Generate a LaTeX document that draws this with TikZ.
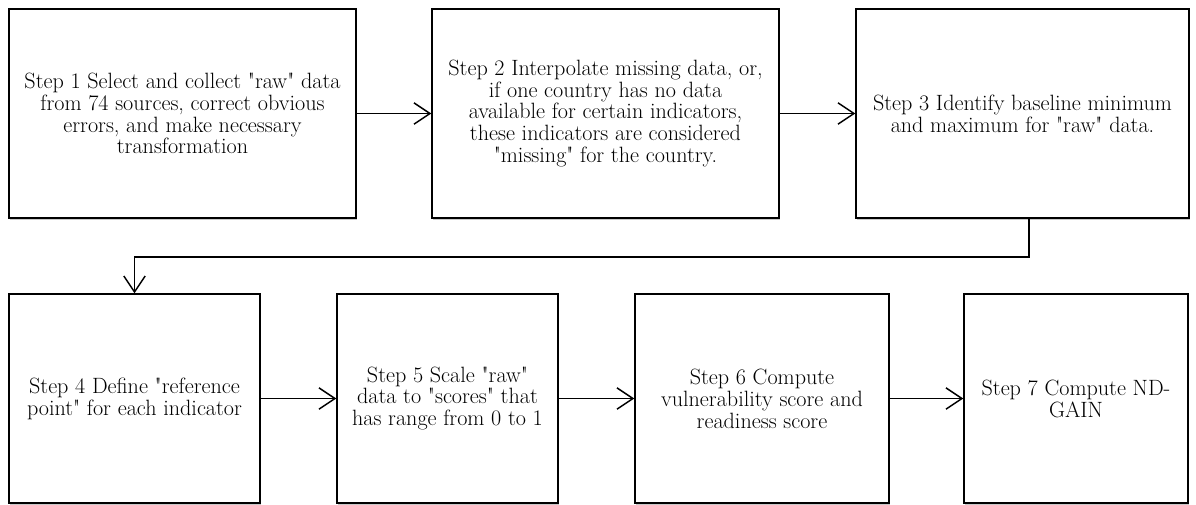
\documentclass[tikz,border=0pt]{standalone}
\usepackage{fontspec}
\usetikzlibrary{arrows.meta,shadows}
\newcommand{\dq}{\textquotedbl}
\begin{document}
\begin{tikzpicture}[x=0.75pt,y=-0.75pt,
  stepbox/.style={draw=black, line width=1.1pt, fill=white, rectangle, inner sep=0pt,
    minimum height=156.75pt, align=center,
    font=\fontsize{16.6}{16.4}\selectfont,
    drop shadow={shadow xshift=0.9pt, shadow yshift=-1.4pt, opacity=0.3, fill=black!70}},
  conn/.style={draw=black, line width=1.1pt, -{Straight Barb[length=12pt,width=16pt,line width=1.1pt]}},
  plain/.style={draw=black, line width=1.1pt}]
\useasboundingbox (0,0) rectangle (1196,504);

\node[stepbox, minimum width=260.25pt] (b1) at (182.5,113.5)
  {Step 1 Select and collect \dq raw\dq{} data\\from 74 sources, correct obvious\\errors, and make necessary\\transformation};
\node[stepbox, minimum width=260.25pt] (b2) at (605.5,113.5)
  {Step 2 Interpolate missing data, or,\\if one country has no data\\available for certain indicators,\\these indicators are considered\\\dq missing\dq{} for the country.};
\node[stepbox, minimum width=249.75pt] (b3) at (1022.5,113.5)
  {Step 3 Identify baseline minimum\\and maximum for \dq raw\dq{} data.};

\node[stepbox, minimum width=188.25pt] (b4) at (134.5,398.5)
  {Step 4 Define \dq reference\\point\dq{} for each indicator};
\node[stepbox, minimum width=165.75pt] (b5) at (447.5,398.5)
  {Step 5 Scale \dq raw\dq\\data to \dq scores\dq{} that\\has range from 0 to 1};
\node[stepbox, minimum width=190.5pt] (b6) at (762,398.5)
  {Step 6 Compute\\vulnerability score and\\readiness score};
\node[stepbox, minimum width=168pt] (b7) at (1076,398.5)
  {Step 7 Compute ND-\\GAIN};

\coordinate (bend) at (1029,257);

\draw[conn] (b1) -- (b2);
\draw[conn] (b2) -- (b3);
\draw[conn] (b3.south -| bend) -- (bend) -| (b4.north);
\draw[conn] (b4) -- (b5);
\draw[conn] (b5) -- (b6);
\draw[conn] (b6) -- (b7);
\end{tikzpicture}
\end{document}
